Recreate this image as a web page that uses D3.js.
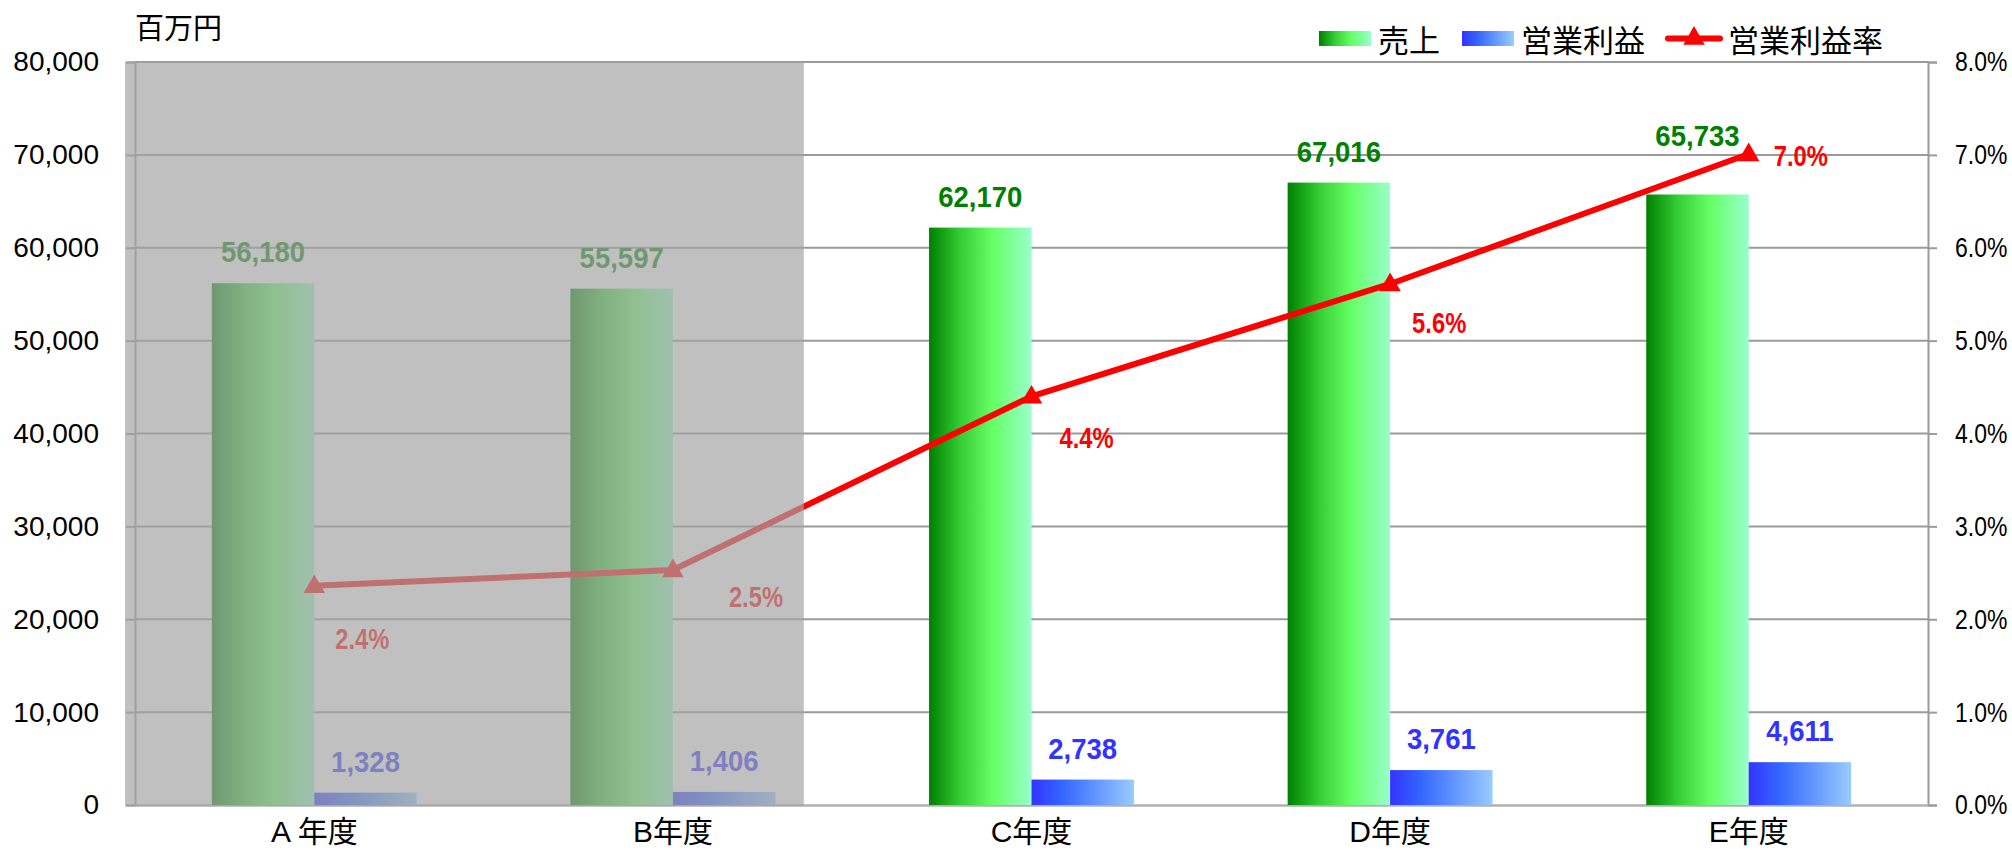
<!DOCTYPE html>
<html>
<head>
<meta charset="utf-8">
<script src="https://cdn.jsdelivr.net/npm/d3@7"></script>
<style>
  html, body { margin: 0; padding: 0; background: #ffffff; }
  svg { display: block; }
</style>
</head>
<body>
<div id="chart"></div>
<script>
// ---------------- data ----------------
const categories = ["A 年度", "B年度", "C年度", "D年度", "E年度"];
const sales = [56180, 55597, 62170, 67016, 65733];          // 売上 (百万円)
const profit = [1328, 1406, 2738, 3761, 4611];              // 営業利益 (百万円)
const rate = [2.36, 2.53, 4.40, 5.61, 7.01];                // 営業利益率 (%)
const rateLabels = ["2.4%", "2.5%", "4.4%", "5.6%", "7.0%"];
const salesLabels = ["56,180", "55,597", "62,170", "67,016", "65,733"];
const profitLabels = ["1,328", "1,406", "2,738", "3,761", "4,611"];
const seriesNames = ["売上", "営業利益", "営業利益率"];
const leftTicks = [0, 10000, 20000, 30000, 40000, 50000, 60000, 70000, 80000];
const leftTickLabels = ["0", "10,000", "20,000", "30,000", "40,000", "50,000", "60,000", "70,000", "80,000"];
const rightTicks = [0, 1, 2, 3, 4, 5, 6, 7, 8];
const rightTickLabels = ["0.0%", "1.0%", "2.0%", "3.0%", "4.0%", "5.0%", "6.0%", "7.0%", "8.0%"];
const unitLabel = "百万円";
const greyedCount = 2; // first two years are shaded

// ---------------- layout ----------------
const W = 2012, H = 850;
const L = 135, R = 1928, T = 62, B = 805;
const latin = "'Liberation Sans', Arial, 'Noto Sans CJK JP', sans-serif";
const cjk = "'Liberation Sans', 'Noto Sans CJK JP', sans-serif";
const condense = 0.82;
// label nudges (dx from point, dy baseline from point) for rate labels
const rateLabelNudge = [[21, 63], [56, 37], [28, 52], [22, 49], [25, 12]];
const salesLabelRaise = [21, 21, 21, 21, 49];
const profitLabelRaise = 21;

const svg = d3.select("#chart").append("svg")
  .attr("width", W).attr("height", H)
  .attr("viewBox", `0 0 ${W} ${H}`);

const defs = svg.append("defs");
function grad(id, stops) {
  const g = defs.append("linearGradient").attr("id", id)
    .attr("x1", "0").attr("y1", "0").attr("x2", "1").attr("y2", "0");
  stops.forEach(([o, c]) => g.append("stop").attr("offset", o).attr("stop-color", c));
}
grad("gSales", [[0, "#007f00"], [0.3, "#33cc33"], [0.62, "#66ff66"], [1, "#99ffcc"]]);
grad("gProfit", [[0, "#3333ff"], [0.3, "#3366ff"], [1, "#99ccff"]]);

const x = d3.scaleBand().domain(categories).range([L, R]).paddingInner(0).paddingOuter(0);
const bw = x.bandwidth();
const barW = bw / 3.5;
const xs = d3.scaleBand().domain(["sales", "profit"]).range([bw / 2 - barW, bw / 2 + barW]);
const y0 = d3.scaleLinear().domain([0, 80000]).range([B, T]);
const y1 = d3.scaleLinear().domain([0, 8]).range([B, T]);

// gridlines
svg.append("g").selectAll("line").data(leftTicks.slice(1)).join("line")
  .attr("x1", L).attr("x2", R)
  .attr("y1", d => y0(d)).attr("y2", d => y0(d))
  .attr("stroke", "#9a9a9a").attr("stroke-width", 2);

// left axis
const axL = svg.append("g").attr("transform", `translate(${L},0)`)
  .call(d3.axisLeft(y0).tickValues(leftTicks).tickSize(9).tickPadding(27)
    .tickFormat((d, i) => leftTickLabels[i]));
axL.select(".domain").attr("stroke", "#9a9a9a").attr("stroke-width", 2);
axL.selectAll(".tick line").attr("stroke", "#9a9a9a").attr("stroke-width", 2);
axL.selectAll(".tick text").attr("font-family", latin).attr("font-size", 28).attr("fill", "#000");

// right axis
const axR = svg.append("g").attr("transform", `translate(${R},0)`)
  .call(d3.axisRight(y1).tickValues(rightTicks).tickSize(9).tickPadding(18)
    .tickFormat((d, i) => rightTickLabels[i]));
axR.select(".domain").attr("stroke", "#9a9a9a").attr("stroke-width", 2);
axR.selectAll(".tick line").attr("stroke", "#9a9a9a").attr("stroke-width", 2);
axR.selectAll(".tick text").attr("font-family", latin).attr("font-size", 28).attr("fill", "#000")
  .attr("x", 27 / condense).attr("transform", `scale(${condense},1)`);

// bottom axis
const axB = svg.append("g").attr("transform", `translate(0,${B})`)
  .call(d3.axisBottom(x).tickSize(0).tickPadding(16));
axB.select(".domain").attr("stroke", "#b0b0b0").attr("stroke-width", 2.5);
axB.selectAll(".tick text").attr("font-family", cjk).attr("font-size", 30).attr("fill", "#000");

// bars
const gBars = svg.append("g");
gBars.selectAll("rect.sales").data(sales).join("rect").attr("class", "sales")
  .attr("x", (d, i) => x(categories[i]) + xs("sales"))
  .attr("width", xs.bandwidth())
  .attr("y", d => y0(d)).attr("height", d => y0(0) - y0(d))
  .attr("fill", "url(#gSales)");
gBars.selectAll("rect.profit").data(profit).join("rect").attr("class", "profit")
  .attr("x", (d, i) => x(categories[i]) + xs("profit"))
  .attr("width", xs.bandwidth())
  .attr("y", d => y0(d)).attr("height", d => y0(0) - y0(d))
  .attr("fill", "url(#gProfit)");

// bar labels
const gLab = svg.append("g").attr("font-family", latin).attr("font-weight", "bold").attr("font-size", 29)
  .attr("text-anchor", "middle");
gLab.selectAll("text.sl").data(sales).join("text").attr("class", "sl")
  .attr("transform", (d, i) => `translate(${x(categories[i]) + xs("sales") + xs.bandwidth() / 2},${y0(d) - salesLabelRaise[i]}) scale(0.95,1)`)
  .attr("fill", "#008000").text((d, i) => salesLabels[i]);
gLab.selectAll("text.pl").data(profit).join("text").attr("class", "pl")
  .attr("transform", (d, i) => `translate(${x(categories[i]) + xs("profit") + xs.bandwidth() / 2},${y0(d) - profitLabelRaise}) scale(0.95,1)`)
  .attr("fill", "#3333ff").text((d, i) => profitLabels[i]);

// line
const cx = i => x(categories[i]) + bw / 2;
const line = d3.line().x((d, i) => cx(i)).y(d => y1(d));
svg.append("path").datum(rate).attr("d", line)
  .attr("fill", "none").attr("stroke", "#ff0000").attr("stroke-width", 6)
  .attr("stroke-linejoin", "round").attr("stroke-linecap", "round");
const tri = d3.symbol().type(d3.symbolTriangle).size(200);
svg.append("g").selectAll("path").data(rate).join("path")
  .attr("d", tri)
  .attr("transform", (d, i) => `translate(${cx(i)},${y1(d) + 1})`)
  .attr("fill", "#ff0000");
svg.append("g").attr("font-family", latin).attr("font-weight", "bold").attr("font-size", 29)
  .selectAll("text").data(rate).join("text")
  .attr("transform", (d, i) => `translate(${cx(i) + rateLabelNudge[i][0]},${y1(d) + rateLabelNudge[i][1]}) scale(${condense},1)`)
  .attr("fill", "#ff0000").text((d, i) => rateLabels[i]);

// grey shading over first years
const shadeRight = x(categories[greyedCount - 1]) + bw * 0.365 + bw / 2;
svg.append("rect")
  .attr("x", L - 10).attr("y", T)
  .attr("width", shadeRight - (L - 10)).attr("height", B + 1 - T)
  .attr("fill", "rgb(163,163,163)").attr("fill-opacity", 0.686);

// unit label
svg.append("text").attr("x", 135).attr("y", 26).attr("dominant-baseline", "central")
  .attr("font-family", "'Noto Sans CJK JP', sans-serif").attr("font-size", 29).attr("fill", "#000")
  .text(unitLabel);

// legend
const lg = svg.append("g").attr("font-family", "'Noto Sans CJK JP', sans-serif").attr("font-size", 31).attr("fill", "#000");
const legendItems = [
  { name: seriesNames[0], x: 1319, kind: "sales" },
  { name: seriesNames[1], x: 1462, kind: "profit" },
  { name: seriesNames[2], x: 1666, kind: "rate" }
];
const ly = 38.5;
legendItems.forEach(it => {
  if (it.kind === "rate") {
    lg.append("line").attr("x1", it.x + 2).attr("x2", it.x + 54).attr("y1", ly).attr("y2", ly)
      .attr("stroke", "#ff0000").attr("stroke-width", 6).attr("stroke-linecap", "round");
    lg.append("path").attr("d", tri).attr("transform", `translate(${it.x + 28},${ly})`).attr("fill", "#ff0000");
    lg.append("text").attr("x", it.x + 62).attr("y", ly).attr("dominant-baseline", "central").text(it.name);
  } else {
    lg.append("rect").attr("x", it.x).attr("y", ly - 7.5).attr("width", 52).attr("height", 15)
      .attr("fill", it.kind === "sales" ? "url(#gSales)" : "url(#gProfit)");
    lg.append("text").attr("x", it.x + 59).attr("y", ly).attr("dominant-baseline", "central").text(it.name);
  }
});
</script>
</body>
</html>
